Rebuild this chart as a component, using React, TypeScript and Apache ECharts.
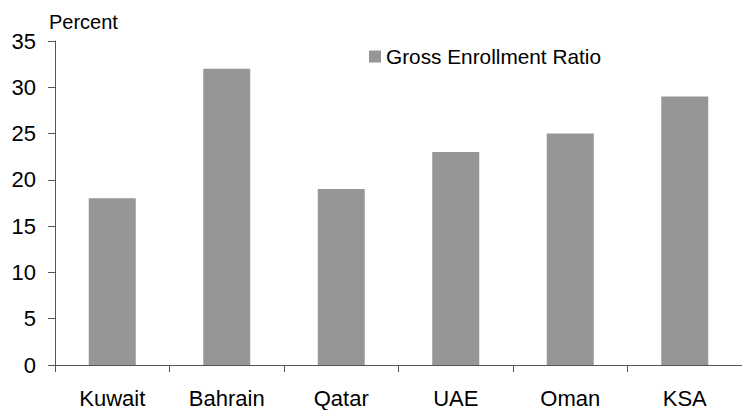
import React, { useEffect, useRef } from "react";
import * as echarts from "echarts";

const countries = ["Kuwait", "Bahrain", "Qatar", "UAE", "Oman", "KSA"];
const grossEnrollment = [18, 32, 19, 23, 25, 29];
const seriesName = "Gross Enrollment Ratio";
const yUnit = "Percent";

const FONT = "Liberation Sans, Arial, Helvetica, sans-serif";
const AXIS_COLOR = "#555555";
const BAR_COLOR = "#969696";

export default function App() {
  const ref = useRef<HTMLDivElement>(null);

  useEffect(() => {
    if (!ref.current) return;
    const chart = echarts.init(ref.current, undefined, { renderer: "svg" });
    chart.setOption({
      animation: false,
      backgroundColor: "#ffffff",
      textStyle: { fontFamily: FONT },
      grid: { left: 55, top: 41, bottom: 45, right: -11 },
      legend: {
        show: true,
        left: 369,
        top: 46,
        padding: 0,
        icon: "rect",
        itemWidth: 12,
        itemHeight: 12,
        itemGap: 5,
        textStyle: { fontFamily: FONT, fontSize: 20.8, color: "#000000" },
        data: [seriesName],
      },
      graphic: [
        {
          type: "text",
          left: 49,
          top: 12,
          style: { text: yUnit, font: `20px ${FONT}`, fill: "#000000" },
        },
      ],
      xAxis: {
        type: "category",
        data: countries,
        boundaryGap: true,
        axisLine: { show: true, lineStyle: { color: AXIS_COLOR, width: 1 } },
        axisTick: { show: true, alignWithLabel: false, length: 7, lineStyle: { color: AXIS_COLOR } },
        axisLabel: { color: "#000000", fontSize: 22, fontFamily: FONT, margin: 22 },
        splitLine: { show: false },
      },
      yAxis: {
        type: "value",
        min: 0,
        max: 35,
        interval: 5,
        axisLine: { show: true, lineStyle: { color: AXIS_COLOR, width: 1 } },
        axisTick: { show: true, length: 7, lineStyle: { color: AXIS_COLOR } },
        axisLabel: { color: "#000000", fontSize: 22, fontFamily: FONT, margin: 19 },
        splitLine: { show: false },
      },
      series: [
        {
          name: seriesName,
          type: "bar",
          data: grossEnrollment,
          barWidth: 47,
          itemStyle: { color: BAR_COLOR },
        },
      ],
    });
    return () => chart.dispose();
  }, []);

  return (
    <div
      ref={ref}
      style={{ position: "fixed", left: 0, top: 0, width: 742, height: 410 }}
    />
  );
}
